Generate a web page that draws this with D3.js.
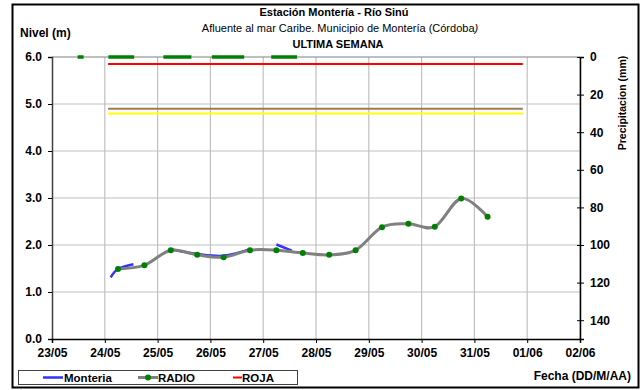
<!DOCTYPE html>
<html>
<head>
<meta charset="utf-8">
<script src="https://cdn.jsdelivr.net/npm/d3@7"></script>
<style>
  body { margin: 0; background: #fff; }
  text { font-family: "Liberation Sans", Arial, sans-serif; }
</style>
</head>
<body>
<div id="chart"></div>
<script>
// Estación Montería - Río Sinú, ultima semana

const diasEje = ["23/05", "24/05", "25/05", "26/05", "27/05", "28/05", "29/05", "30/05", "31/05", "01/06", "02/06"];
const nivelTicks = [0, 1, 2, 3, 4, 5, 6];
const precipTicks = [0, 20, 40, 60, 80, 100, 120, 140];

// lecturas RADIO (m)
const radioFechas = ["24/05 06:00", "24/05 18:00", "25/05 06:00", "25/05 18:00", "26/05 06:00", "26/05 18:00",
  "27/05 06:00", "27/05 18:00", "28/05 06:00", "28/05 18:00", "29/05 06:00", "29/05 18:00",
  "30/05 06:00", "30/05 18:00", "31/05 06:00"];
const radioNivel = [1.49, 1.57, 1.89, 1.79, 1.74, 1.89, 1.89, 1.83, 1.79, 1.89, 2.38, 2.45, 2.39, 2.99, 2.60];

// sensor Monteria (m), tramos con huecos
const monteriaFechas = ["24/05 02:40", "24/05 06:00", "24/05 13:00", null,
  "25/05 06:00", "25/05 18:00", "26/05 06:00", "26/05 18:00", null,
  "27/05 06:00", "27/05 13:00"];
const monteriaNivel = [1.31, 1.49, 1.59, null, 1.91, 1.81, 1.77, 1.91, null, 2.01, 1.88];

// umbrales
const umbralInicio = "24/05 01:30";
const umbralFin = "31/05 22:00";
const umbralRoja = 5.85;
const umbralNaranja = 4.9;
const umbralAmarilla = 4.8;

// precipitacion (mm): tramos de lecturas en cero
const precipInicio = ["23/05 13:00", "24/05 03:00", "25/05 04:00", "26/05 02:00", "27/05 05:00"];
const precipFin = ["23/05 13:00", "24/05 12:00", "25/05 14:00", "26/05 14:00", "27/05 14:00"];
const precipValor = [0, 0, 0, 0, 0];

const W = 643, H = 390;
const margin = { left: 52, right: 63, top: 57, bottom: 51 };
const width = W - margin.left - margin.right;
const height = H - margin.top - margin.bottom;

const parse = d3.timeParse("%d/%m %H:%M");
const parseDia = d3.timeParse("%d/%m");

const svg = d3.select("#chart").append("svg")
  .attr("width", W)
  .attr("height", H);

svg.append("rect")
  .attr("x", 12.5).attr("y", 4.5)
  .attr("width", 626).attr("height", 383)
  .attr("fill", "#fff")
  .attr("stroke", "#000")
  .attr("stroke-width", 2);

const g = svg.append("g")
  .attr("transform", `translate(${margin.left},${margin.top})`);

const x = d3.scaleTime()
  .domain([parseDia(diasEje[0]), parseDia(diasEje[diasEje.length - 1])])
  .range([0, width]);

const y = d3.scaleLinear().domain([0, 6]).range([height, 0]);
const yR = d3.scaleLinear().domain([0, 150]).range([0, height]);

// grid
g.append("g")
  .selectAll("line")
  .data(diasEje.slice(1))
  .enter().append("line")
  .attr("x1", d => x(parseDia(d))).attr("x2", d => x(parseDia(d)))
  .attr("y1", 0).attr("y2", height)
  .attr("stroke", "#c0c0c0")
  .attr("stroke-width", 1.2);

g.append("g")
  .selectAll("line")
  .data(nivelTicks.slice(1))
  .enter().append("line")
  .attr("x1", 0).attr("x2", width)
  .attr("y1", d => y(d)).attr("y2", d => y(d))
  .attr("stroke", d => d === 6 ? "#808080" : "#c0c0c0")
  .attr("stroke-width", 1.2);

// axes
const axisL = g.append("g")
  .call(d3.axisLeft(y).tickValues(nivelTicks).tickFormat(d3.format(".1f")).tickSize(4).tickPadding(6));
const axisB = g.append("g")
  .attr("transform", `translate(0,${height})`)
  .call(d3.axisBottom(x).tickValues(diasEje.map(parseDia)).tickFormat(d3.timeFormat("%d/%m")).tickSize(4).tickPadding(5));
const axisR = g.append("g")
  .attr("transform", `translate(${width},0)`)
  .call(d3.axisRight(yR).tickValues(precipTicks).tickSize(4).tickPadding(6));

[axisL, axisB, axisR].forEach(a => {
  a.select(".domain").attr("stroke", "#000").attr("stroke-width", 1.5);
  a.selectAll(".tick line").attr("stroke", "#000");
  a.selectAll("text")
    .style("font-family", "'Liberation Sans', Arial, sans-serif")
    .style("font-size", "12px")
    .style("font-weight", "bold")
    .attr("fill", "#000");
});
axisR.selectAll(".tick line").attr("x1", -3);
axisL.select(".domain").attr("stroke", "#404040");

// umbrales
[[umbralAmarilla, "#ffff00"], [umbralNaranja, "#a07850"], [umbralRoja, "#ff0000"]].forEach(([v, c]) => {
  g.append("line")
    .attr("x1", x(parse(umbralInicio))).attr("x2", x(parse(umbralFin)))
    .attr("y1", y(v)).attr("y2", y(v))
    .attr("stroke", c)
    .attr("stroke-width", 2);
});

// precipitacion
g.append("g")
  .selectAll("line")
  .data(precipInicio.map((d, i) => ({ a: parse(d), b: parse(precipFin[i]), v: precipValor[i] })))
  .enter().append("line")
  .attr("x1", d => x(d.a) - 3).attr("x2", d => x(d.b) + 3)
  .attr("y1", d => yR(d.v)).attr("y2", d => yR(d.v))
  .attr("stroke", "#008000")
  .attr("stroke-width", 3.5);

// Monteria
const monteria = monteriaFechas.map((d, i) => ({ t: d ? parse(d) : null, v: monteriaNivel[i] }));
g.append("path")
  .datum(monteria)
  .attr("fill", "none")
  .attr("stroke", "#3333ff")
  .attr("stroke-width", 2.5)
  .attr("d", d3.line()
    .defined(d => d.t !== null)
    .x(d => x(d.t)).y(d => y(d.v))
    .curve(d3.curveCardinal.tension(0)));

// RADIO
const radio = radioFechas.map((d, i) => ({ t: parse(d), v: radioNivel[i] }));
g.append("path")
  .datum(radio)
  .attr("fill", "none")
  .attr("stroke", "#808080")
  .attr("stroke-width", 3)
  .attr("d", d3.line()
    .x(d => x(d.t)).y(d => y(d.v))
    .curve(d3.curveCardinal.tension(0)));

g.selectAll(".punto")
  .data(radio)
  .enter().append("circle")
  .attr("class", "punto")
  .attr("cx", d => x(d.t)).attr("cy", d => y(d.v))
  .attr("r", 3)
  .attr("fill", "#008000");

// titulos
svg.append("text")
  .attr("x", 334).attr("y", 16)
  .attr("text-anchor", "middle")
  .style("font-size", "11px").style("font-weight", "bold")
  .text("Estación Montería  - Río Sinú");

const sub = svg.append("text")
  .attr("x", 340).attr("y", 32)
  .attr("text-anchor", "middle")
  .style("font-size", "11px");
sub.append("tspan").text("Afluente al mar Caribe. Municipio de Montería (Córdoba");
sub.append("tspan").style("font-style", "italic").text(")");

svg.append("text")
  .attr("x", 338).attr("y", 48)
  .attr("text-anchor", "middle")
  .style("font-size", "11px").style("font-weight", "bold")
  .text("ULTIMA SEMANA");

svg.append("text")
  .attr("x", 20).attr("y", 37)
  .style("font-size", "12px").style("font-weight", "bold")
  .text("Nivel (m)");

svg.append("text")
  .attr("transform", "translate(626,103) rotate(-90)")
  .attr("text-anchor", "middle")
  .style("font-size", "10.5px").style("font-weight", "bold")
  .text("Precipitacion (mm)");

svg.append("text")
  .attr("x", 631).attr("y", 380)
  .attr("text-anchor", "end")
  .style("font-size", "12px").style("font-weight", "bold")
  .text("Fecha (DD/M/AA)");

// leyenda
const leg = svg.append("g");
leg.append("rect")
  .attr("x", 18.5).attr("y", 370.5)
  .attr("width", 279).attr("height", 14)
  .attr("fill", "#fff")
  .attr("stroke", "#404040");

const ly = 377.5;
const legFont = "11.5px";
leg.append("line").attr("x1", 43).attr("x2", 63).attr("y1", ly).attr("y2", ly)
  .attr("stroke", "#3333ff").attr("stroke-width", 2.5);
leg.append("text").attr("x", 64).attr("y", ly + 4)
  .style("font-size", legFont).style("font-weight", "bold").text("Monteria");

leg.append("line").attr("x1", 138).attr("x2", 158).attr("y1", ly).attr("y2", ly)
  .attr("stroke", "#808080").attr("stroke-width", 3);
leg.append("circle").attr("cx", 148).attr("cy", ly).attr("r", 3).attr("fill", "#008000");
leg.append("text").attr("x", 158).attr("y", ly + 4)
  .style("font-size", legFont).style("font-weight", "bold").text("RADIO");

leg.append("line").attr("x1", 233).attr("x2", 242).attr("y1", ly).attr("y2", ly)
  .attr("stroke", "#ff0000").attr("stroke-width", 2);
leg.append("text").attr("x", 242).attr("y", ly + 4)
  .style("font-size", legFont).style("font-weight", "bold").text("ROJA");
</script>
</body>
</html>
